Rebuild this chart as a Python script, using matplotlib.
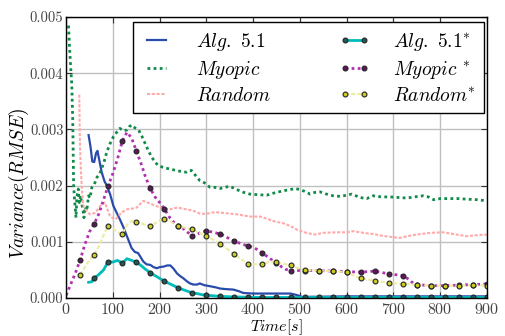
import numpy as np
import matplotlib
matplotlib.use("Agg")
import matplotlib.pyplot as plt

# values in units of 1e-3
alg_t = [48, 52, 56, 60, 64, 67, 71, 76, 82, 87, 94, 101, 108, 115, 122, 130, 140, 147, 154,
         165, 172, 180, 187, 194, 200, 209, 216, 223, 230, 237, 244, 251, 258, 265, 272, 280,
         286, 295, 308, 320, 329, 340, 358, 370, 379, 400, 430, 460, 480, 495, 505, 600, 700,
         800, 900]
alg_v = [2.90, 2.70, 2.43, 2.42, 2.58, 2.62, 2.45, 2.24, 2.08, 2.00, 1.85, 1.64, 1.52, 1.40,
         1.27, 1.10, 0.89, 0.82, 0.80, 0.65, 0.60, 0.59, 0.55, 0.53, 0.55, 0.56, 0.58, 0.58,
         0.52, 0.44, 0.39, 0.35, 0.30, 0.26, 0.24, 0.24, 0.26, 0.23, 0.21, 0.19, 0.17, 0.16,
         0.15, 0.12, 0.09, 0.08, 0.08, 0.08, 0.08, 0.05, 0.02, 0.03, 0.03, 0.03, 0.03]

myo_t = [5, 7, 9, 12, 14, 15, 16, 18, 20, 21, 23, 26, 28, 31, 34, 36, 38, 41, 44, 48, 51, 55,
         60, 66, 71, 76, 82, 87, 94, 101, 108, 115, 122, 130, 135, 140, 147, 155, 162, 169, 176,
         183, 190, 197, 206, 215, 225, 236, 247, 257, 263, 268, 275, 286, 296, 308, 318, 329,
         340, 350, 365, 380, 393, 410, 429, 440, 450, 465, 479, 490, 500, 510, 522, 532, 543,
         557, 571, 586, 600, 611, 620, 628, 643, 657, 675, 693, 710, 729, 745, 764, 775, 786,
         800, 821, 840, 857, 880, 900]
myo_v = [4.85, 4.50, 4.20, 3.80, 3.20, 2.60, 2.00, 1.75, 1.55, 1.43, 1.80, 1.94, 1.70, 1.82,
         1.65, 1.58, 1.43, 1.62, 1.55, 1.82, 1.78, 1.97, 2.02, 2.15, 2.20, 2.30, 2.45, 2.60,
         2.75, 2.87, 2.95, 3.02, 2.98, 2.99, 3.05, 3.08, 3.03, 2.99, 2.88, 2.75, 2.62, 2.51,
         2.42, 2.36, 2.33, 2.31, 2.29, 2.27, 2.25, 2.24, 2.27, 2.27, 2.20, 2.09, 2.05, 1.97,
         1.97, 1.95, 1.97, 1.99, 1.93, 1.88, 1.85, 1.84, 1.83, 1.86, 1.88, 1.91, 1.93, 1.95,
         1.93, 1.90, 1.85, 1.88, 1.89, 1.85, 1.82, 1.81, 1.83, 1.85, 1.82, 1.79, 1.77, 1.82,
         1.80, 1.80, 1.79, 1.78, 1.80, 1.82, 1.80, 1.75, 1.77, 1.77, 1.77, 1.76, 1.75, 1.73]

rnd_t = [28, 29, 30, 32, 34, 36, 38, 44, 51, 56, 62, 68, 73, 78, 83, 88, 94, 100, 105, 110, 115,
         122, 130, 140, 151, 158, 165, 174, 183, 192, 201, 211, 222, 231, 240, 249, 258, 273,
         287, 300, 318, 330, 343, 365, 393, 415, 430, 443, 465, 480, 493, 514, 532, 550, 578,
         600, 614, 636, 657, 675, 693, 714, 730, 750, 778, 806, 828, 857, 880, 900]
rnd_v = [3.62, 3.00, 2.60, 2.20, 1.90, 1.70, 1.61, 1.55, 1.49, 1.50, 1.52, 1.58, 1.64, 1.68,
         1.70, 1.58, 1.46, 1.42, 1.40, 1.44, 1.49, 1.54, 1.58, 1.59, 1.61, 1.67, 1.73, 1.70,
         1.67, 1.64, 1.61, 1.59, 1.58, 1.60, 1.61, 1.59, 1.58, 1.55, 1.50, 1.50, 1.53, 1.52,
         1.51, 1.49, 1.45, 1.45, 1.41, 1.37, 1.33, 1.28, 1.22, 1.16, 1.13, 1.16, 1.17, 1.17,
         1.19, 1.16, 1.14, 1.11, 1.09, 1.07, 1.10, 1.13, 1.16, 1.17, 1.14, 1.10, 1.12, 1.13]

algs_t = [48, 55, 60, 70, 80, 90, 100, 110, 120, 130, 140, 150, 160, 170, 180, 190, 200, 210,
          220, 230, 240, 250, 260, 270, 280, 290, 300, 330, 360, 390, 420, 450, 480, 510, 540,
          570, 600, 630, 660, 690, 720, 750, 780, 810, 840, 870, 900]
algs_v = [0.28, 0.29, 0.35, 0.42, 0.50, 0.65, 0.64, 0.67, 0.62, 0.70, 0.67, 0.64, 0.58, 0.51,
          0.45, 0.40, 0.35, 0.30, 0.26, 0.22, 0.18, 0.15, 0.12, 0.09, 0.08, 0.06, 0.05, 0.03,
          0.02, 0.015, 0.01, 0.01, 0.01, 0.01, 0.01, 0.01, 0.01, 0.01, 0.01, 0.01, 0.01, 0.01,
          0.01, 0.01, 0.01, 0.01, 0.01]

myos_t = [0, 10, 20, 30, 40, 50, 60, 70, 80, 90, 100, 110, 120, 130, 140, 150, 160, 170, 180,
          190, 200, 210, 220, 230, 240, 250, 260, 270, 280, 290, 300, 310, 320, 330, 340, 350,
          360, 370, 380, 390, 400, 410, 420, 430, 440, 450, 460, 470, 480, 510, 540, 570, 600,
          630, 660, 690, 720, 730, 740, 750, 780, 810, 840, 870, 900]
myos_v = [0.05, 0.25, 0.45, 0.68, 0.95, 1.18, 1.32, 1.50, 1.75, 2.00, 2.22, 2.48, 2.79, 2.95,
          2.85, 2.62, 2.40, 2.15, 1.95, 1.80, 1.70, 1.59, 1.45, 1.35, 1.29, 1.24, 1.17, 1.11,
          1.13, 1.18, 1.19, 1.18, 1.16, 1.14, 1.10, 1.05, 1.01, 0.98, 0.95, 0.93, 0.90, 0.86,
          0.80, 0.74, 0.68, 0.63, 0.56, 0.51, 0.49, 0.49, 0.49, 0.48, 0.47, 0.46, 0.48, 0.43,
          0.40, 0.35, 0.28, 0.24, 0.22, 0.22, 0.23, 0.24, 0.25]

rnds_t = [30, 40, 50, 60, 70, 80, 90, 100, 110, 120, 130, 140, 150, 160, 170, 180, 190, 200,
          210, 220, 230, 240, 250, 260, 270, 280, 290, 300, 310, 320, 330, 340, 350, 360, 370,
          380, 390, 400, 410, 420, 430, 440, 450, 460, 470, 480, 490, 500, 510, 540, 570, 600,
          610, 620, 630, 660, 690, 720, 750, 780, 810, 840, 870, 900]
rnds_v = [0.41, 0.55, 0.68, 0.77, 0.92, 1.12, 1.29, 1.24, 1.17, 1.14, 1.30, 1.37, 1.35, 1.33,
          1.30, 1.29, 1.33, 1.38, 1.41, 1.37, 1.33, 1.29, 1.26, 1.24, 1.22, 1.18, 1.14, 1.11,
          1.06, 1.01, 0.96, 0.90, 0.84, 0.78, 0.72, 0.66, 0.61, 0.60, 0.60, 0.61, 0.63, 0.65,
          0.64, 0.62, 0.60, 0.58, 0.55, 0.52, 0.50, 0.49, 0.48, 0.46, 0.42, 0.38, 0.35, 0.31,
          0.27, 0.25, 0.24, 0.22, 0.22, 0.22, 0.23, 0.22]

SCALE = 1e-3

plt.rcParams['mathtext.fontset'] = 'cm'
plt.rcParams['font.family'] = ['cmr10', 'DejaVu Serif']
plt.rcParams['axes.formatter.use_mathtext'] = True
plt.rcParams['axes.unicode_minus'] = False

fig = plt.figure(figsize=(5.05, 3.36), dpi=100)
ax = fig.add_axes([0.131, 0.113, 0.833, 0.836])

def every30(ts, start):
    return [i for i, t in enumerate(ts) if t % 30 == 0 and t >= start]

ax.plot(alg_t, np.array(alg_v) * SCALE, color='#2a4bab', lw=1.6, label=r'$\mathit{Alg.\ 5.1}$')
ax.plot(myo_t, np.array(myo_v) * SCALE, color='#108a48', lw=2.0, ls=(0, (1, 1.2)),
        label=r'$\mathit{Myopic}$')
ax.plot(rnd_t, np.array(rnd_v) * SCALE, color='#ffaaaa', lw=1.5, ls=(0, (1.5, 0.8)),
        label=r'$\mathit{Random}$')
ax.plot(algs_t, np.array(algs_v) * SCALE, color='#00bcbc', lw=2.0, marker='o', ms=3.5,
        mfc='#1e5a5a', mec='#222222', mew=0.8, markevery=every30(algs_t, 60),
        label=r'$\mathit{Alg.\ 5.1}^{*}$')
ax.plot(myos_t, np.array(myos_v) * SCALE, color='#b030b0', lw=2.0, ls=(0, (1, 1.2)),
        marker='o', ms=3.5, mfc='#5a1a5a', mec='#222222', mew=0.8,
        markevery=every30(myos_t, 30), label=r'$\mathit{Myopic}\ ^{*}$')
ax.plot(rnds_t, np.array(rnds_v) * SCALE, color='#ececa0', lw=1.5, ls=(0, (2, 1)),
        marker='o', ms=3.5, mfc='#cccc22', mec='#222222', mew=0.8,
        markevery=every30(rnds_t, 30), label=r'$\mathit{Random}^{*}$')

ax.set_xlim(0, 900)
ax.set_ylim(0, 0.005)
ax.set_xticks(np.arange(0, 901, 100))
ax.set_yticks(np.arange(0, 0.0051, 0.001))
ax.set_yticklabels(['0.000', '0.001', '0.002', '0.003', '0.004', '0.005'])
ax.tick_params(direction='in', top=True, right=True, length=4, color='#333333')
ax.tick_params(axis='x', labelsize=11.5, labelcolor='#444444', pad=2.5)
ax.tick_params(axis='y', labelsize=10.5, labelcolor='#444444', pad=2)
ax.grid(True, color='#c0c0c0', lw=1)
ax.set_axisbelow(True)
for s in ax.spines.values():
    s.set_color('black')
    s.set_linewidth(1.0)

ax.set_xlabel(r'$Time[s]$', fontsize=11.5, va='top')
ax.xaxis.set_label_coords(0.5, -0.068)
ax.set_ylabel(r'$Variance(RMSE)$', fontsize=14, va='center')
ax.yaxis.set_label_coords(-0.112, 0.41)

leg = ax.legend(ncol=2, loc='upper left', bbox_to_anchor=(0.159, 0.664, 0.834, 0.317),
                mode='expand', fontsize=14, frameon=True, fancybox=False, framealpha=1,
                edgecolor='black', handlelength=1.6, numpoints=2, labelspacing=0.32,
                borderpad=0.42, handletextpad=1.2, borderaxespad=0)
leg.get_frame().set_linewidth(1.0)

fig.savefig('out.png', dpi=100)
